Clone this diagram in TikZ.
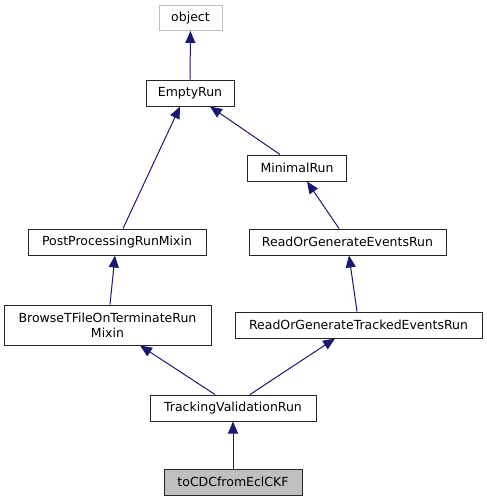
\documentclass[tikz,border=0pt]{standalone}
\usepackage{fontspec}
\setmainfont{DejaVu Sans}
\usetikzlibrary{arrows.meta}

\definecolor{edgeblue}{HTML}{191970}
\definecolor{boxgray}{HTML}{BFBFBF}

\tikzset{
  cls/.style={draw=black!85, line width=1pt, inner sep=0pt, minimum height=26pt,
    font=\fontsize{12.5}{14.5}\selectfont, align=center},
  extcls/.style={cls, draw=boxgray},
  curcls/.style={cls, fill=boxgray},
  inherit/.style={draw=edgeblue, line width=1pt, {Triangle[length=12pt,width=10pt]}-}
}

\begin{document}
\begin{tikzpicture}[x=1pt, y=-1pt]
    \useasboundingbox (0,0) rectangle (487,501);

    % Klassen
    \node[extcls, minimum width=63pt, minimum height=25pt] (object) at (190.5,18) {object};
    \node[cls, minimum width=88pt] (empty) at (190,93) {EmptyRun};
    \node[cls, minimum width=99pt] (minimal) at (297,168) {MinimalRun};
    \node[cls, minimum width=178pt] (postproc) at (117,242) {PostProcessingRunMixin};
    \node[cls, minimum width=197pt] (readgen) at (347.5,242) {ReadOrGenerateEventsRun};
    \node[cls, minimum width=207pt, minimum height=40pt] (browse) at (107.5,325) {BrowseTFileOnTerminateRun\\Mixin};
    \node[cls, minimum width=247pt] (readtracked) at (358.5,325) {ReadOrGenerateTrackedEventsRun};
    \node[cls, minimum width=166pt] (trackval) at (233,408) {TrackingValidationRun};
    \node[curcls, minimum width=138pt] (tocdc) at (233,482) {toCDCfromEclCKF};

    % Vererbung
    \draw[inherit] (object) -- (empty);
    \draw[inherit] ([xshift=-10pt]empty.south) -- ([xshift=6pt]postproc.north);
    \draw[inherit] ([xshift=20pt]empty.south) -- ([xshift=-17pt]minimal.north);
    \draw[inherit] ([xshift=10pt]minimal.south) -- ([xshift=-8.5pt]readgen.north);
    \draw[inherit] ([xshift=-2pt]postproc.south) -- ([xshift=2.5pt]browse.north);
    \draw[inherit] ([xshift=1.5pt]readgen.south) -- ([xshift=-1.5pt]readtracked.north);
    \draw[inherit] ([xshift=32.5pt]browse.south) -- ([xshift=-18pt]trackval.north);
    \draw[inherit] ([xshift=-23.5pt]readtracked.south) -- ([xshift=17pt]trackval.north);
    \draw[inherit] (trackval) -- (tocdc);
\end{tikzpicture}
\end{document}
